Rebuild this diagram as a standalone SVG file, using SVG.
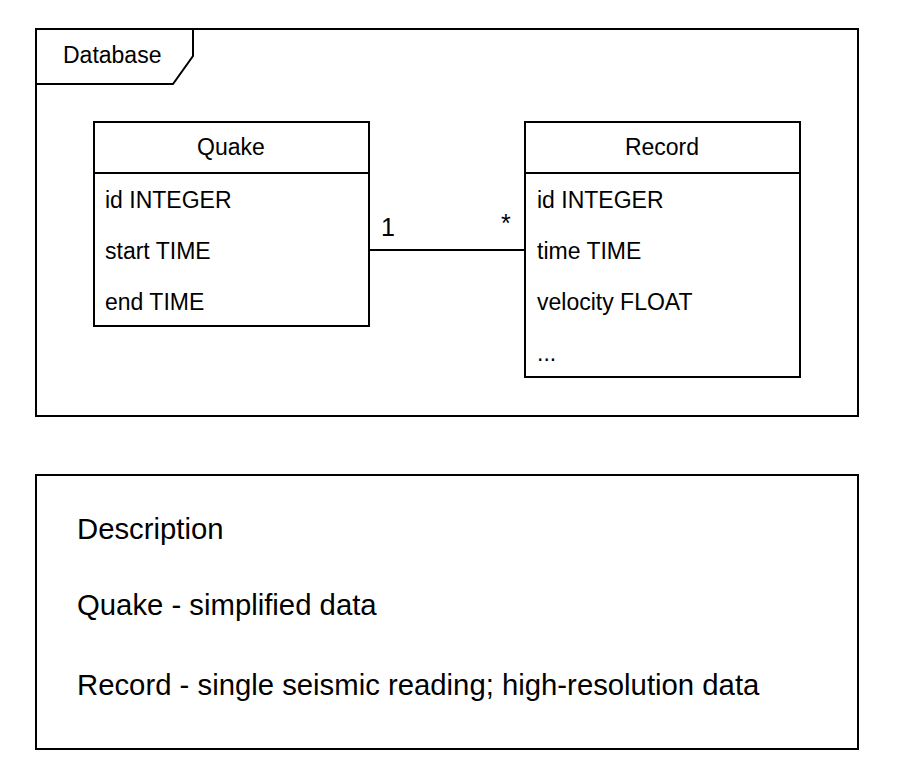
<svg xmlns="http://www.w3.org/2000/svg" width="901" height="777" viewBox="0 0 901 777">
<style>
.box{fill:#fff;stroke:#000;stroke-width:2}
.ln{fill:none;stroke:#000;stroke-width:2}
text{font-family:"Liberation Sans",Arial,sans-serif;fill:#000}
.t{font-size:23px}
.c{text-anchor:middle}
.d{font-size:29.3px}
</style>
<rect width="901" height="777" fill="#fff"/>
<g id="database">
<rect class="box" x="36" y="29" width="822" height="387"/>
<path class="ln" d="M36,84 H173 L193,56 V29"/>
<text class="t" x="63" y="63">Database</text>
</g>
<g id="connectors">
<line class="ln" x1="369" y1="250" x2="525" y2="250"/>
<text x="381" y="236" style="font-size:25px">1</text>
<text x="501" y="232" style="font-size:25px">*</text>
</g>
<g id="quake">
<rect class="box" x="94" y="122" width="275" height="204"/>
<line class="ln" x1="94" y1="173" x2="369" y2="173"/>
<text class="t c" x="231" y="155">Quake</text>
<text class="t" x="105" y="208">id INTEGER</text>
<text class="t" x="105" y="259">start TIME</text>
<text class="t" x="105" y="310">end TIME</text>
</g>
<g id="record">
<rect class="box" x="525" y="122" width="275" height="255"/>
<line class="ln" x1="525" y1="173" x2="800" y2="173"/>
<text class="t c" x="662" y="155">Record</text>
<text class="t" x="537" y="208">id INTEGER</text>
<text class="t" x="537" y="259">time TIME</text>
<text class="t" x="537" y="310">velocity FLOAT</text>
<text class="t" x="537" y="361">...</text>
</g>
<g id="description">
<rect class="box" x="36" y="475" width="822" height="274"/>
<text class="d" x="77" y="539">Description</text>
<text class="d" x="77" y="615">Quake - simplified data</text>
<text class="d" x="77" y="695">Record - single seismic reading; high-resolution data</text>
</g>
</svg>
